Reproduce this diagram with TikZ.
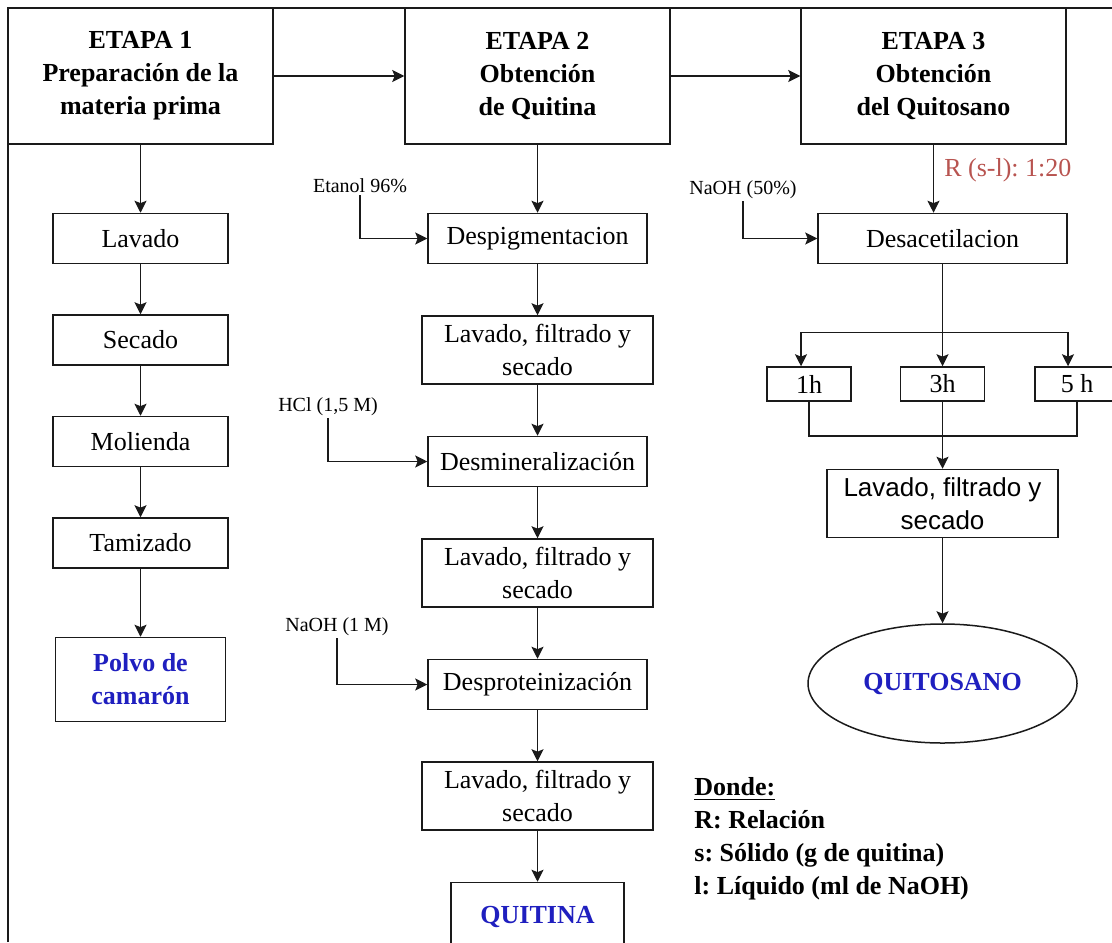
\documentclass[tikz,border=0pt]{standalone}
\usepackage{fontspec}
\setmainfont{Liberation Serif}
\setsansfont{Liberation Sans}
\usetikzlibrary{shapes.geometric, arrows.meta, positioning}
\definecolor{cInk}{HTML}{1A1A1A}
\definecolor{cBlue}{HTML}{1F1FBF}
\definecolor{cRed}{HTML}{B85450}
\frenchspacing
\tikzset{
  box/.style={
    rectangle, draw=cInk, line width=0.75pt, inner sep=2pt,
    minimum width=#1, minimum height=25pt, align=center,
    font=\fontsize{13}{16.5}\selectfont
  },
  box/.default=109.5pt,
  hbox/.style={box=132.5pt, minimum height=68pt, font=\bfseries\fontsize{13}{16.5}\selectfont},
  wbox/.style={box=115.5pt, minimum height=34pt},
  fbox/.style={box=#1, minimum height=34pt, text=cBlue, font=\bfseries\fontsize{13}{16.5}\selectfont},
  sbox/.style={box=42pt, minimum height=17pt, inner sep=1pt},
  ebox/.style={ellipse, draw=cInk, line width=0.75pt, minimum width=134.5pt, minimum height=59.5pt,
    text=cBlue, font=\bfseries\fontsize{13}{16.5}\selectfont},
  arrow/.style={-{Stealth[length=6pt, width=6pt, inset=1.2pt]}, line width=0.75pt, draw=cInk},
  line/.style={line width=0.75pt, draw=cInk},
  frame/.style={line width=1pt, draw=cInk},
  inlbl/.style={inner sep=1pt, font=\fontsize{10}{12}\selectfont},
  ratio/.style={inner sep=1pt, text=cRed, font=\fontsize{13}{16}\selectfont},
  legend/.style={inner sep=0pt, align=left, font=\bfseries\fontsize{13}{16.5}\selectfont},
}

\begin{document}
\begin{tikzpicture}[x=0.5pt, y=-0.5pt, node distance=25pt]
  \useasboundingbox (0,0) rectangle (1112,942);

  % frame (top and left)
  \draw[frame] (8,942) -- (8,8) -- (1112,8);

  % Stage headers
  \node[hbox] (e1) at (140.5,76) {ETAPA 1\\Preparación de la\\materia prima};
  \node[hbox] (e2) at (537.5,76) {ETAPA 2\\Obtención\\de Quitina};
  \node[hbox] (e3) at (933.5,76) {ETAPA 3\\Obtención\\del Quitosano};

  % Column 1: raw material
  \node[box=87.5pt, below=34pt of e1]  (lav1)  {Lavado};
  \node[box=87.5pt, below=of lav1]     (sec1)  {Secado};
  \node[box=87.5pt, below=of sec1]     (mol1)  {Molienda};
  \node[box=87.5pt, below=of mol1]     (tam1)  {Tamizado};
  \node[fbox=85pt, minimum height=42pt, below=34pt of tam1] (polvo) {Polvo de\\camarón};

  % Column 2: chitin
  \node[box, below=34pt of e2]     (desp)   {Despigmentacion};
  \node[wbox, below=25.5pt of desp]  (lav2)   {Lavado, filtrado y\\secado};
  \node[box, below=25.5pt of lav2]   (desm)   {Desmineralización};
  \node[wbox, below=25.5pt of desm]  (lav3)   {Lavado, filtrado y\\secado};
  \node[box, below=25.5pt of lav3]   (dprot)  {Desproteinización};
  \node[wbox, below=25.5pt of dprot] (lav4)   {Lavado, filtrado y\\secado};
  \node[fbox=86.5pt, below=25.5pt of lav4] (quitina) {QUITINA};

  \node[inlbl] (etanol) at (360,186) {Etanol 96\%};
  \node[inlbl] (hcl)    at (328,407) {HCl (1,5 M)};
  \node[inlbl] (naoh1)  at (337,627) {NaOH (1 M)};

  % Column 3: chitosan
  \node[box=124.5pt, below=34pt of e3, xshift=4.5pt] (desac) {Desacetilacion};
  \node[inlbl] (naoh50) at (743,190) {NaOH (50\%)};
  \node[sbox, below=51pt of desac]  (h3) {3h};
  \node[sbox, left=24pt of h3]      (h1) {1h};
  \node[sbox, right=24.5pt of h3]   (h5) {5 h};
  \node[wbox, font=\sffamily\fontsize{13}{16.5}\selectfont, below=33.5pt of h3] (lav5) {Lavado, filtrado y\\secado};
  \node[ebox, below=42.5pt of lav5] (quitosano) {QUITOSANO};

  % Legend
  \node[legend, anchor=west] (donde) at (694,839)
    {\underline{Donde:}\\R: Relación\\s: Sólido (g de quitina)\\l: Líquido (ml de NaOH)};

  % Arrows: headers
  \draw[arrow] (e1) -- (e2);
  \draw[arrow] (e2) -- (e3);

  % Arrows: column 1
  \draw[arrow] (e1)   -- (lav1);
  \draw[arrow] (lav1) -- (sec1);
  \draw[arrow] (sec1) -- (mol1);
  \draw[arrow] (mol1) -- (tam1);
  \draw[arrow] (tam1) -- (polvo);

  % Arrows: column 2
  \draw[arrow] (e2)    -- (desp);
  \draw[arrow] (desp)  -- (lav2);
  \draw[arrow] (lav2)  -- (desm);
  \draw[arrow] (desm)  -- (lav3);
  \draw[arrow] (lav3)  -- (dprot);
  \draw[arrow] (dprot) -- (lav4);
  \draw[arrow] (lav4)  -- (quitina);
  \draw[arrow] (etanol.south) |- (desp.west);
  \draw[arrow] (hcl.south)    |- (desm.west);
  \draw[arrow] (naoh1.south)  |- (dprot.west);

  % Arrows: column 3
  \draw[arrow] (e3.south) -- (e3.south |- desac.north)
    node[pos=0.38, right=4pt, ratio] {R (s-l): 1:20};
  \draw[arrow] (naoh50.south) |- (desac.west);
  \coordinate (split) at ([yshift=-34pt]desac.south);
  \draw[arrow] (desac.south) -- (h3.north);
  \draw[arrow] (split) -| ([xshift=-4pt]h1.north);
  \draw[arrow] (split) -| ([xshift=-4.5pt]h5.north);
  \draw[line]  (h1.south) -- ++(0,34) -| (h5.south);
  \draw[arrow] (h3.south) -- (lav5.north);
  \draw[arrow] (lav5) -- (quitosano);

\end{tikzpicture}
\end{document}
